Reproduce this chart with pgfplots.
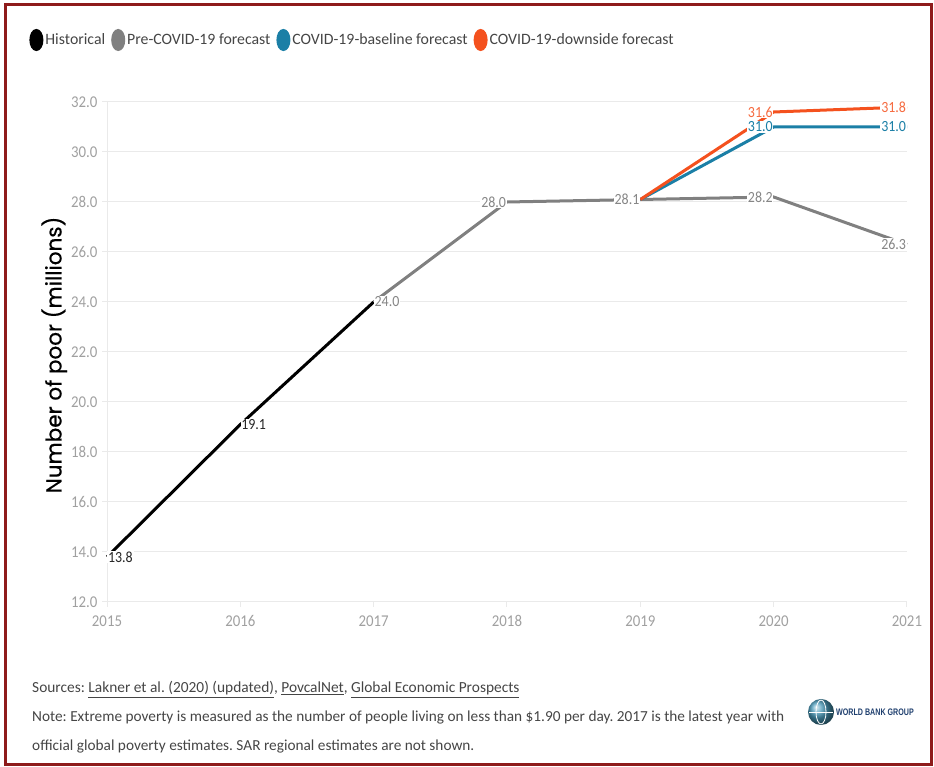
\documentclass[border=0pt]{standalone}
\usepackage{pgfplots}
\pgfplotsset{compat=1.18}
\usepackage{pgfplotstable}
\usepackage{fontspec}
\setmainfont{Carlito}
\newfontfamily\condfont[FakeStretch=0.9]{Carlito}
\newfontfamily\popfont[FakeBold=0.6]{Poppins}
\newfontfamily\logofont[FakeStretch=0.75]{Liberation Sans}
\definecolor{histc}{HTML}{000000}
\definecolor{prec}{HTML}{808080}
\definecolor{basec}{HTML}{1B7FA6}
\definecolor{downc}{HTML}{F4511E}
\definecolor{gridc}{HTML}{EAEAEA}
\definecolor{tickc}{HTML}{A0A0A0}
\definecolor{framec}{HTML}{8E1B1B}
\definecolor{notec}{HTML}{454545}
\definecolor{logoc}{HTML}{1F3F6E}

\pgfplotstableread{
x y
2015 13.8
2016 19.1
2017 24.0
}\hist
\pgfplotstableread{
x y
2017 24.0
2018 28.0
2019 28.1
2020 28.2
2021 26.3
}\pre
\pgfplotstableread{
x y
2019 28.1
2020 31.0
2021 31.0
}\base
\pgfplotstableread{
x y
2019 28.1
2020 31.6
2021 31.8
}\down

\pgfplotstableread{
x y
2015 13.8
2016 19.1
}\histlab
\pgfplotstableread{
x y
2017 24.0
}\prelabw
\pgfplotstableread{
x y
2018 28.0
2019 28.1
2020 28.2
2021 26.3
}\prelabe
\pgfplotstableread{
x y
2020 31.0
2021 31.0
}\baselab
\pgfplotstableread{
x y
2020 31.6
2021 31.8
}\downlab

\pgfplotsset{
  lab/.style 2 args={draw=none, mark=none, forget plot,
    point meta=y,
    nodes near coords={\pgfmathprintnumber[fixed,fixed zerofill,precision=1]{\pgfplotspointmeta}},
    every node near coord/.append style={anchor=#2, fill=white, inner sep=0.8pt,
      font=\condfont\fontsize{15.5}{15.5}\selectfont, text=#1}},
}

\begin{document}
\frenchspacing
\begin{tikzpicture}
\path (0,0) rectangle (934pt,767pt);
\draw[framec, line width=3pt] (5.5pt,2.5pt) rectangle (931pt,762pt);
\begin{axis}[
  at={(107pt,165pt)}, anchor=south west, scale only axis,
  width=800pt, height=500pt,
  xmin=2015, xmax=2021, ymin=12, ymax=32,
  xtick={2015,2016,...,2021}, ytick={12,14,...,32},
  axis x line*=bottom, axis y line*=left,
  axis line style={draw=gridc, line width=1pt, -},
  ymajorgrids, grid style={draw=gridc, line width=1pt},
  tick align=outside, major tick length=5pt,
  tick style={draw=gridc, line width=1pt},
  clip=false,
  /pgf/number format/assume math mode=true,
  xticklabel style={/pgf/number format/1000 sep=, font=\condfont\fontsize{16.5}{16.5}\selectfont, text=tickc, yshift=-5pt},
  yticklabel style={/pgf/number format/fixed, /pgf/number format/fixed zerofill, /pgf/number format/precision=1,
     font=\condfont\fontsize{16.5}{16.5}\selectfont, text=tickc, xshift=-1pt},
  ylabel={Number of poor (millions)},
  ylabel style={font=\popfont\fontsize{21.5}{21.5}\selectfont, at={(axis description cs:-0.066,0.494)}, anchor=center},
  legend style={at={(axis description cs:-0.101,1.124)}, anchor=west, draw=none, fill=none,
     font=\fontsize{15.8}{15.8}\selectfont, text=notec,
     nodes={inner xsep=2pt},
     /tikz/every even column/.append style={column sep=4pt},
     /tikz/every odd column/.append style={column sep=0pt}},
  legend columns=4,
]
\addplot[histc, line width=3pt, legend image code/.code={\fill[histc] (0pt,0pt) ellipse (5.5pt and 9.5pt);}] table[x=x,y=y]{\hist};
\addlegendentry{Historical}
\addplot[prec, line width=3pt, legend image code/.code={\fill[prec] (0pt,0pt) ellipse (5.5pt and 9.5pt);}] table[x=x,y=y]{\pre};
\addlegendentry{Pre-COVID-19 forecast}
\addplot[basec, line width=3pt, legend image code/.code={\fill[basec] (0pt,0pt) ellipse (5.5pt and 9.5pt);}] table[x=x,y=y]{\base};
\addlegendentry{COVID-19-baseline forecast}
\addplot[downc, line width=3pt, legend image code/.code={\fill[downc] (0pt,0pt) ellipse (5.5pt and 9.5pt);}] table[x=x,y=y]{\down};
\addlegendentry{COVID-19-downside forecast}

\addplot[lab={black!85}{west}] table[x=x,y=y]{\histlab};
\addplot[lab={prec!95}{west}] table[x=x,y=y]{\prelabw};
\addplot[lab={prec!95}{east}] table[x=x,y=y]{\prelabe};
\addplot[lab={basec}{east}] table[x=x,y=y]{\baselab};
\addplot[lab={downc!85}{east}] table[x=x,y=y]{\downlab};
\end{axis}

\node[anchor=base west, font=\fontsize{15.4}{15.4}\selectfont, text=notec, inner sep=0pt] at (32pt,74pt)
  {Sources: \underline{Lakner et al. (2020) (updated)}, \underline{PovcalNet}, \underline{Global Economic Prospects}};
\node[anchor=base west, font=\fontsize{15.3}{15.3}\selectfont, text=notec, inner sep=0pt] at (32pt,45pt)
  {Note: Extreme poverty is measured as the number of people living on less than \$1.90 per day. 2017 is the latest year with};
\node[anchor=base west, font=\fontsize{15.3}{15.3}\selectfont, text=notec, inner sep=0pt] at (32pt,16pt)
  {official global poverty estimates. SAR regional estimates are not shown.};

\shade[ball color=basec!80] (821pt,55pt) circle (13pt);
\draw[white, line width=0.8pt] (821pt,55pt) ellipse (5pt and 12pt);
\draw[white, line width=0.8pt] (809pt,55pt) -- (833pt,55pt);
\node[anchor=west, font=\logofont\bfseries\fontsize{9.5}{9.5}\selectfont, text=logoc, inner sep=0pt] at (836pt,55pt) {WORLD BANK GROUP};
\end{tikzpicture}
\end{document}
